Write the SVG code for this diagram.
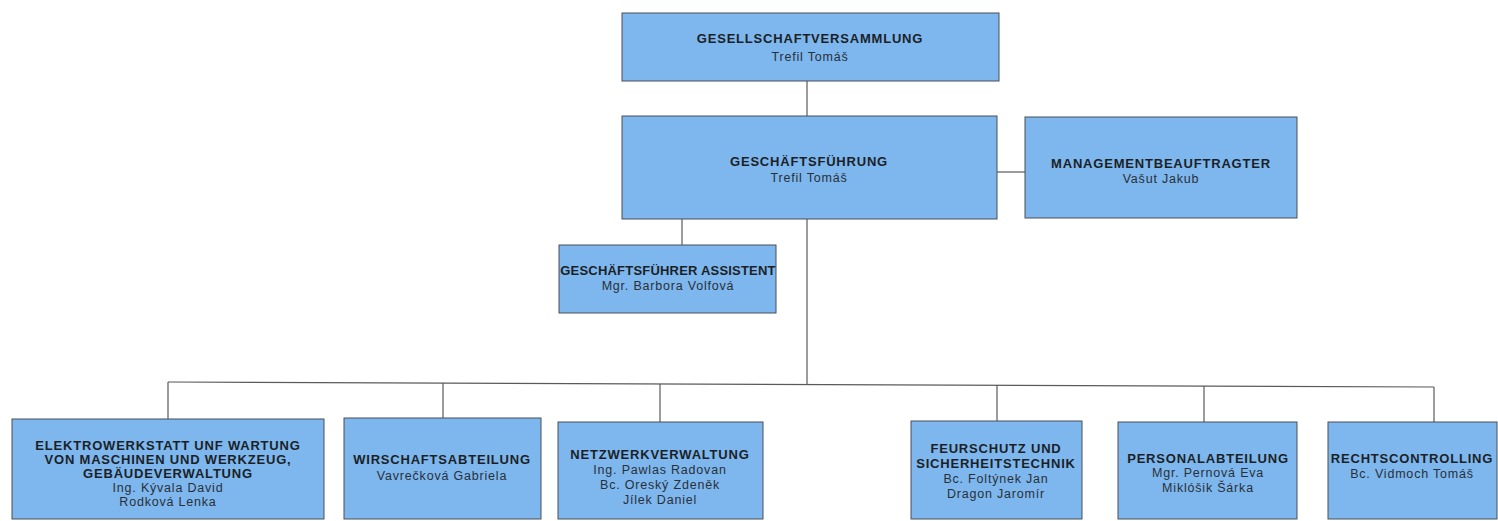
<svg xmlns="http://www.w3.org/2000/svg" width="1498" height="521" viewBox="0 0 1498 521">
<style>
.box{fill:#7db7ee;stroke:#4a4f57;stroke-width:1}
.con{fill:none;stroke:#5a5a5a;stroke-width:1.2}
text{font-family:"Liberation Sans",Arial,sans-serif;text-anchor:middle;fill:#1c1f26}
.t{font-size:13px;font-weight:bold;letter-spacing:0.8px}
.ta{font-size:13px;font-weight:bold;letter-spacing:0.2px}
.n{font-size:12.5px;letter-spacing:0.8px;fill:#2a2f38}
</style>
<rect width="1498" height="521" fill="#ffffff"/>
<g id="connectors">
<line class="con" x1="807" y1="81" x2="807" y2="116"/>
<line class="con" x1="997" y1="172" x2="1025" y2="172"/>
<line class="con" x1="682" y1="219" x2="682" y2="245"/>
<line class="con" x1="807" y1="219" x2="807" y2="384.5"/>
<line class="con" x1="168" y1="382" x2="1434" y2="387"/>
<line class="con" x1="168" y1="382" x2="168" y2="419"/>
<line class="con" x1="443" y1="383" x2="443" y2="418"/>
<line class="con" x1="660" y1="384" x2="660" y2="422"/>
<line class="con" x1="997" y1="385" x2="997" y2="421"/>
<line class="con" x1="1204" y1="386" x2="1204" y2="422"/>
<line class="con" x1="1434" y1="387" x2="1434" y2="422"/>
</g>
<g id="gesellschaftversammlung">
<rect class="box" x="622" y="13" width="377" height="68"/>
<text class="t" x="810" y="43">GESELLSCHAFTVERSAMMLUNG</text>
<text class="n" x="810" y="61">Trefil Tomáš</text>
</g>
<g id="geschaeftsfuehrung">
<rect class="box" x="622" y="116" width="375" height="103"/>
<text class="t" x="809" y="166">GESCHÄFTSFÜHRUNG</text>
<text class="n" x="809" y="182">Trefil Tomáš</text>
</g>
<g id="managementbeauftragter">
<rect class="box" x="1025" y="117" width="272" height="101"/>
<text class="t" x="1161" y="168">MANAGEMENTBEAUFTRAGTER</text>
<text class="n" x="1161" y="183">Vašut Jakub</text>
</g>
<g id="assistent">
<rect class="box" x="559" y="245" width="217" height="68"/>
<text class="ta" x="668" y="275">GESCHÄFTSFÜHRER ASSISTENT</text>
<text class="n" x="668" y="290">Mgr. Barbora Volfová</text>
</g>
<g id="elektrowerkstatt">
<rect class="box" x="12" y="419" width="312" height="100"/>
<text class="t" x="168" y="450">ELEKTROWERKSTATT UNF WARTUNG</text>
<text class="t" x="168" y="464">VON MASCHINEN UND WERKZEUG,</text>
<text class="t" x="168" y="478">GEBÄUDEVERWALTUNG</text>
<text class="n" x="168" y="492">Ing. Kývala David</text>
<text class="n" x="168" y="506">Rodková Lenka</text>
</g>
<g id="wirschaftsabteilung">
<rect class="box" x="344" y="418" width="197" height="101"/>
<text class="t" x="442" y="464">WIRSCHAFTSABTEILUNG</text>
<text class="n" x="442" y="480">Vavrečková Gabriela</text>
</g>
<g id="netzwerkverwaltung">
<rect class="box" x="558" y="422" width="205" height="97"/>
<text class="t" x="660" y="459">NETZWERKVERWALTUNG</text>
<text class="n" x="660" y="474">Ing. Pawlas Radovan</text>
<text class="n" x="660" y="489">Bc. Oreský Zdeněk</text>
<text class="n" x="660" y="504">Jílek Daniel</text>
</g>
<g id="feurschutz">
<rect class="box" x="911" y="421" width="171" height="98"/>
<text class="t" x="996" y="453">FEURSCHUTZ UND</text>
<text class="t" x="996" y="468">SICHERHEITSTECHNIK</text>
<text class="n" x="996" y="483">Bc. Foltýnek Jan</text>
<text class="n" x="996" y="498">Dragon Jaromír</text>
</g>
<g id="personalabteilung">
<rect class="box" x="1118" y="422" width="179" height="97"/>
<text class="t" x="1208" y="463">PERSONALABTEILUNG</text>
<text class="n" x="1208" y="477">Mgr. Pernová Eva</text>
<text class="n" x="1208" y="492">Miklóšik Šárka</text>
</g>
<g id="rechtscontrolling">
<rect class="box" x="1328" y="422" width="169" height="97"/>
<text class="t" x="1412" y="463">RECHTSCONTROLLING</text>
<text class="n" x="1412" y="478">Bc. Vidmoch Tomáš</text>
</g>
</svg>
